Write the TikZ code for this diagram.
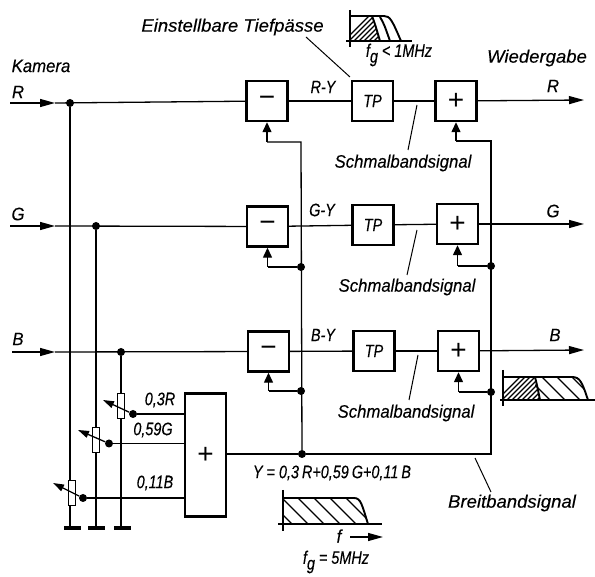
\documentclass[tikz,border=0pt]{standalone}
\usepackage{fontspec}
\setmainfont{Liberation Sans}
\newfontfamily\bbFont{Liberation Sans Italic}[FakeStretch=0.93,FakeBold=0.25]
\newfontfamily\bbFontNarrow{Liberation Sans Italic}[FakeStretch=0.8,FakeBold=0.25]
\newfontfamily\bbFontWide{Liberation Sans Italic}[FakeStretch=1.03,FakeBold=0.25]
\usetikzlibrary{arrows.meta}
\newcommand{\bbSub}[1]{\raisebox{-0.32em}{#1}}
\tikzset{
  wire/.style={line width=1.3pt},
  bbBox/.style={draw, line width=2.4pt, fill=white, minimum width=41pt, minimum height=40pt, inner sep=0pt, font={\fontsize{28}{28}\selectfont}},
  bbDot/.style={circle, fill=black, minimum size=8pt, inner sep=0pt},
  bbPot/.style={draw, line width=1.2pt, fill=white, minimum width=7pt, minimum height=25pt, inner sep=0pt},
  bbGround/.style={fill=black, minimum width=17pt, minimum height=4.5pt, inner sep=0pt},
  bbText/.style={inner sep=0pt, font={\fontsize{18}{20}\bbFont}},
  bbTight/.style={inner sep=0pt, font={\fontsize{18}{20}\bbFontNarrow}},
  bbLong/.style={inner sep=0pt, font={\fontsize{18}{20}\bbFontWide}},
  bbLeader/.style={line width=1pt},
  bbArrow/.style={wire, -{Triangle[length=15pt,width=8pt]}},
  bbFeed/.style={wire, -{Triangle[length=10pt,width=9pt]}},
  bbCurve/.style={line width=1.9pt}
}
\begin{document}
\begin{tikzpicture}[x=1pt,y=-1pt]
\useasboundingbox (0,0) rectangle (595,577);
\coordinate (inR) at (10,103);
\coordinate (inG) at (10,226);
\coordinate (inB) at (12,352);
\coordinate (tipR) at (55,103);
\coordinate (tipG) at (55,226);
\coordinate (tipB) at (55,352);
\coordinate (outR) at (584,100);
\coordinate (outG) at (584,224);
\coordinate (outB) at (584,350);
\node[bbBox] (subR) at (267,101) {−};
\node[bbBox] (subG) at (267.5,226.5) {−};
\node[bbBox] (subB) at (268.5,351.5) {−};
\node[bbBox, font={\fontsize{18}{20}\bbFontNarrow}] (tpR) at (372.5,101) {TP};
\node[bbBox, font={\fontsize{18}{20}\bbFontNarrow}] (tpG) at (373,225) {TP};
\node[bbBox, font={\fontsize{18}{20}\bbFontNarrow}] (tpB) at (374,351) {TP};
\node[bbBox] (addR) at (456,101) {+};
\node[bbBox] (addG) at (457.5,224) {+};
\node[bbBox] (addB) at (458.5,351) {+};
\node[bbBox, minimum height=123pt] (addY) at (205.5,455) {+};
\node[bbDot] (dotR) at (70,103) {};
\node[bbDot] (dotG) at (96,226) {};
\node[bbDot] (dotB) at (121,352) {};
\node[bbPot] (potR) at (121,406) {};
\node[bbPot] (potG) at (96,440) {};
\node[bbPot] (potB) at (72,493) {};
\node[bbGround] (gndR) at (72,528) {};
\node[bbGround] (gndG) at (96,528) {};
\node[bbGround] (gndB) at (122,528) {};
\node[bbDot] (wipeR) at (133,414) {};
\node[bbDot] (wipeG) at (109,443.5) {};
\node[bbDot] (wipeB) at (83,498) {};
\coordinate (adjR) at (103,400);
\coordinate (adjG) at (78,430);
\coordinate (adjB) at (53,483);
\coordinate (inaR) at (184,414);
\coordinate (inaG) at (184,443.5);
\coordinate (inaB) at (184,498);
\node[bbDot] (lumaG) at (301,267) {};
\node[bbDot] (lumaB) at (301,391) {};
\node[bbDot] (lumaY) at (302,454) {};
\node[bbDot] (wideG) at (491,266) {};
\node[bbDot] (wideB) at (491,392) {};
\coordinate (lumaR) at (301,142);
\coordinate (wideR) at (491,141);
\coordinate (wideY) at (491,454);
\coordinate (arsR) at (267,142);
\coordinate (arsG) at (267.5,267);
\coordinate (arsB) at (268.5,391);
\coordinate (arpR) at (456,141);
\coordinate (arpG) at (457.5,266);
\coordinate (arpB) at (458.5,392);
\draw[bbArrow] (inR) -- (tipR);
\draw[bbArrow] (inG) -- (tipG);
\draw[bbArrow] (inB) -- (tipB);
\draw[wire] (tipR) -- (subR);
\draw[wire] (tipG) -- (subG);
\draw[wire] (tipB) -- (subB);
\draw[wire] (subR) -- (tpR);
\draw[wire] (subG) -- (tpG);
\draw[wire] (subB) -- (tpB);
\draw[wire] (tpR) -- (addR);
\draw[wire] (tpG) -- (addG);
\draw[wire] (tpB) -- (addB);
\draw[bbArrow] (addR) -- (outR);
\draw[bbArrow] (addG) -- (outG);
\draw[bbArrow] (addB) -- (outB);
\draw[wire] (dotR) -- (dotR |- potB.north);
\draw[wire] (dotG) -- (potG.north);
\draw[wire] (dotB) -- (potR.north);
\draw[wire] (potB.south -| dotR) -- (gndR.north -| dotR);
\draw[wire] (potG.south) -- (gndG.north);
\draw[wire] (potR.south) -- (gndR.north -| potR);
\draw[wire, -{Triangle[length=11pt,width=7pt]}] (wipeR) -- (adjR);
\draw[wire, -{Triangle[length=11pt,width=7pt]}] (wipeG) -- (adjG);
\draw[wire, -{Triangle[length=11pt,width=7pt]}] (wipeB) -- (adjB);
\draw[wire] (wipeR) -- (inaR);
\draw[wire] (wipeG) -- (inaG);
\draw[wire] (wipeB) -- (inaB);
\draw[wire] (addY.east |- lumaY) -- (lumaY) -- (wideY) -- (wideR) -- (arpR);
\draw[wire] (lumaY) -- (lumaR) -- (arsR);
\draw[bbFeed] (arsR) -- (arsR |- subR.south);
\draw[bbFeed] (arpR) -- (arpR |- addR.south);
\draw[wire] (lumaG) -- (arsG);
\draw[bbFeed] (arsG) -- (arsG |- subG.south);
\draw[wire] (lumaB) -- (arsB);
\draw[bbFeed] (arsB) -- (arsB |- subB.south);
\draw[wire] (wideG) -- (arpG);
\draw[bbFeed] (arpG) -- (arpG |- addG.south);
\draw[wire] (wideB) -- (arpB);
\draw[bbFeed] (arpB) -- (arpB |- addB.south);
\node[bbText] (kamera) at (41,66) {Kamera};
\node[bbText] (labR) at (18,92) {R};
\node[bbText] (labG) at (18,214) {G};
\node[bbText] (labB) at (18,339) {B};
\node[bbLong] (wiedergabe) at (537,58) {Wiedergabe};
\node[bbText] (labRout) at (553,86) {R};
\node[bbText] (labGout) at (553,211) {G};
\node[bbText] (labBout) at (555,335) {B};
\node[bbTight] (diffR) at (323,87) {R-Y};
\node[bbTight] (diffG) at (322,210) {G-Y};
\node[bbTight] (diffB) at (323,335) {B-Y};
\node[bbLong] (lowpass) at (232.5,27) {Einstellbare Tiefpässe};
\node[bbText] (narrowR) at (403,163) {Schmalbandsignal};
\node[bbText] (narrowG) at (407,287) {Schmalbandsignal};
\node[bbText] (narrowB) at (406,413) {Schmalbandsignal};
\node[bbLong] (wideband) at (512,503) {Breitbandsignal};
\node[bbTight] (factR) at (160,400) {0,3R};
\node[bbTight] (factG) at (153,430) {0,59G};
\node[bbTight] (factB) at (155,483) {0,11B};
\node[bbTight] (sumY) at (332,473) {Y = 0,3\,R+0,59\,G+0,11\,B};
\node[bbTight] (limitS) at (399,55) {f\bbSub{g} < 1MHz};
\node[bbTight] (limitL) at (336,562) {f\bbSub{g} = 5MHz};
\node[bbText] (freq) at (339,536) {f};
\coordinate (freqA) at (350,537);
\coordinate (freqB) at (383,537);
\draw[bbArrow] (freqA) -- (freqB);
\coordinate (leadA) at (306,37);
\coordinate (leadB) at (350,77);
\draw[bbLeader] (leadA) -- (leadB);
\coordinate (leadRa) at (417,105);
\coordinate (leadRb) at (408,150);
\draw[bbLeader] (leadRa) -- (leadRb);
\coordinate (leadGa) at (417,230);
\coordinate (leadGb) at (407,275);
\draw[bbLeader] (leadGa) -- (leadGb);
\coordinate (leadBa) at (418,355);
\coordinate (leadBb) at (409,400);
\draw[bbLeader] (leadBa) -- (leadBb);
\coordinate (leadYa) at (475,458);
\coordinate (leadYb) at (491,492);
\draw[bbLeader] (leadYa) -- (leadYb);
\begin{scope}
\clip (350,41) -- (350,16) -- (372,16) .. controls (375,24) .. (380,41) -- cycle;
\foreach \i in {344,349,...,384} \draw[line width=1.1pt] (\i,41) -- ++(25,-25);
\end{scope}
\draw[line width=1.2pt] (350,10) -- (350,47);
\draw[line width=1.2pt] (346,41) -- (412,41);
\draw[bbCurve] (350,16) -- (384,16) .. controls (390,16) and (392,20) .. (401,41);
\draw[bbCurve] (372,16) .. controls (375,24) .. (380,41);
\draw[bbCurve] (380,17) .. controls (384,24) .. (390,41);
\begin{scope}
\clip (283,524) -- (283,498) -- (354,498) .. controls (361,498) and (362,505) .. (368,524) -- cycle;
\foreach \i in {250,266,...,362} \draw[line width=1.1pt] (\i,498) -- ++(26,26);
\end{scope}
\draw[line width=1.2pt] (283,490) -- (283,531);
\draw[line width=1.2pt] (278,524) -- (382,524);
\draw[bbCurve] (283,498) -- (354,498) .. controls (361,498) and (362,505) .. (368,524);
\begin{scope}
\clip (503,400) -- (503,377) -- (535,377) .. controls (537,385) .. (540,400) -- cycle;
\foreach \i in {497,502,...,540} \draw[line width=1.1pt] (\i,400) -- ++(23,-23);
\end{scope}
\begin{scope}
\clip (535,400) -- (535,377) -- (572,377) .. controls (580,377) and (582,382) .. (588,400) -- cycle;
\foreach \i in {512,527,...,580} \draw[line width=1.1pt] (\i,377) -- ++(23,23);
\end{scope}
\draw[line width=1.2pt] (503,370) -- (503,406);
\draw[line width=1.2pt] (500,400) -- (595,400);
\draw[bbCurve] (503,377) -- (572,377) .. controls (580,377) and (582,382) .. (588,400);
\draw[bbCurve] (535,377) .. controls (537,385) .. (540,400);
\end{tikzpicture}
\end{document}
